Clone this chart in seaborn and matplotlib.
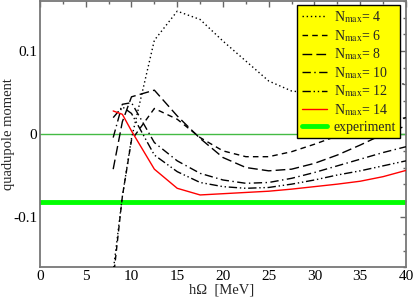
import numpy as np
import pandas as pd
import matplotlib
matplotlib.use("Agg")
import matplotlib.pyplot as plt
import seaborn as sns
from matplotlib.ticker import MultipleLocator, FuncFormatter

sns.set_theme(style="white")
plt.rcParams['font.family'] = ['Liberation Serif', 'DejaVu Serif']
plt.rcParams['mathtext.fontset'] = 'stix'
plt.rcParams['axes.unicode_minus'] = False

# ============================================================
#                   DATA
# ============================================================
hw = [8, 9, 10, 12.5, 15, 17.5, 20, 22.5, 25, 27.5, 30, 32.5, 35, 37.5, 40]

nmax4 = [-0.165, -0.075, -0.005, 0.113, 0.148, 0.138, 0.112, 0.088, 0.064,
         0.052, 0.049, 0.050, 0.053, 0.057, 0.061]
nmax6 = [-0.175, -0.075, -0.007, 0.031, 0.018, -0.004, -0.020, -0.027, -0.027,
         -0.021, -0.012, -0.002, 0.007, 0.014, 0.020]
nmax8 = [-0.042, 0.015, 0.045, 0.053, 0.022, -0.005, -0.028, -0.040, -0.044,
         -0.042, -0.035, -0.025, -0.013, 0.000, 0.010]
nmax10 = [-0.004, 0.036, 0.038, -0.010, -0.032, -0.047, -0.055, -0.059, -0.058,
          -0.053, -0.046, -0.038, -0.030, -0.022, -0.015]
nmax12 = [0.020, 0.033, 0.025, -0.025, -0.045, -0.058, -0.063, -0.065, -0.064,
          -0.060, -0.055, -0.049, -0.044, -0.038, -0.032]
nmax14 = [0.028, 0.024, 0.004, -0.042, -0.065, -0.073, -0.0715, -0.070, -0.0685,
          -0.066, -0.063, -0.060, -0.0565, -0.051, -0.0435]

experiment = -0.081

labels = ["N$_{\\mathrm{max}}$= 4", "N$_{\\mathrm{max}}$= 6", "N$_{\\mathrm{max}}$= 8",
          "N$_{\\mathrm{max}}$= 10", "N$_{\\mathrm{max}}$= 12", "N$_{\\mathrm{max}}$= 14"]
series = [nmax4, nmax6, nmax8, nmax10, nmax12, nmax14]
styles = [(0, (1, 2)), (0, (4, 3)), (0, (7, 3)), (0, (6, 2.5, 1, 2.5)),
          (0, (6, 2, 1, 2, 1, 2)), '-']
line_colors = ['black'] * 5 + ['red']

# ============================================================
#                   PLOT
# ============================================================
fig = plt.figure(figsize=(4.14, 2.97), dpi=100)
ax = fig.add_axes([0.0966, 0.1, 0.884, 0.896])

ax.axhline(0, color='#44bb44', lw=1, zorder=1)

for vals, lab, ls, c in zip(series, labels, styles, line_colors):
    df = pd.DataFrame({'hw': hw, 'q': vals})
    sns.lineplot(data=df, x='hw', y='q', ax=ax, color=c, lw=1, linestyle=ls,
                 label=lab, sort=False, zorder=3)

ax.axhline(experiment, color='#00ff00', lw=3.5, label='experiment', zorder=2)

ax.set_xlim(0, 40)
ax.set_ylim(-0.16, 0.16)
ax.xaxis.set_major_locator(MultipleLocator(5))
ax.xaxis.set_minor_locator(MultipleLocator(2.5))
ax.yaxis.set_major_locator(MultipleLocator(0.1))
ax.yaxis.set_minor_locator(MultipleLocator(0.02))
ax.yaxis.set_major_formatter(FuncFormatter(lambda v, p: '0' if abs(v) < 1e-9 else f'{v:g}'))
ax.tick_params(which='both', direction='in', top=True, right=True,
               colors='#666666', labelcolor='black', labelsize=11)
ax.tick_params(which='major', length=4, width=1, pad=2)
ax.tick_params(which='minor', length=2.5, width=1)
for s in ax.spines.values():
    s.set_color('#777777')
    s.set_linewidth(1.3)

ax.set_xlabel("hΩ  [MeV]", fontsize=10.5)
ax.set_ylabel("quadupole moment", fontsize=10.5)
ax.xaxis.set_label_coords(0.497, -0.086, transform=ax.transAxes)
ax.yaxis.set_label_coords(-0.087, 0.5, transform=ax.transAxes)
ax.xaxis.label.set_va('center')
ax.yaxis.label.set_va('center')

leg = ax.legend(loc='upper right', bbox_to_anchor=(0.984, 0.985), borderaxespad=0,
                frameon=True, fancybox=False, facecolor='#ffff00', edgecolor='black',
                framealpha=1, fontsize=10, handlelength=1.8, labelspacing=0.2,
                handletextpad=0.5, borderpad=0.3)
leg.get_frame().set_linewidth(1)

fig.savefig("out.png", dpi=100)
